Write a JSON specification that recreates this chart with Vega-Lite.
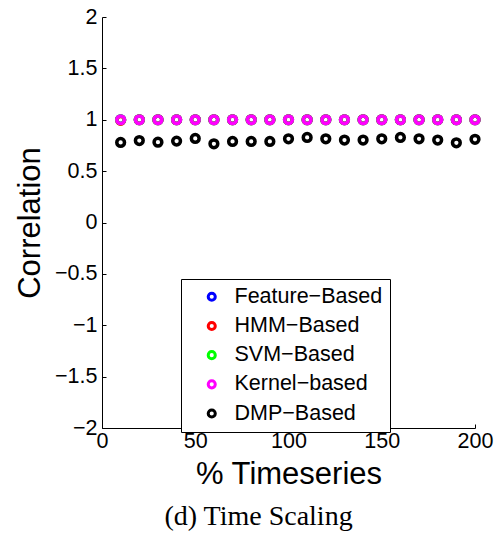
{
  "$schema": "https://vega.github.io/schema/vega-lite/v6.json",
  "width": 373,
  "height": 411,
  "autosize": {"type": "none"},
  "padding": {"left": 102, "top": 17, "right": 29, "bottom": 105},
  "background": "white",
  "title": {
    "text": "(d)  Time Scaling",
    "orient": "bottom",
    "anchor": "middle",
    "font": "Liberation Serif",
    "fontSize": 28,
    "fontWeight": "normal",
    "color": "black",
    "dx": -30,
    "offset": 13
  },
  "config": {
    "view": {"stroke": null},
    "font": "Liberation Sans",
    "axis": {
      "domainColor": "black",
      "domainWidth": 1,
      "tickColor": "black",
      "tickWidth": 1,
      "tickSize": -4,
      "grid": false,
      "labelFont": "Liberation Sans",
      "labelFontSize": 21.5,
      "labelColor": "black",
      "titleFont": "Liberation Sans",
      "titleFontSize": 31,
      "titleFontWeight": "normal",
      "titleColor": "black"
    },
    "legend": {
      "strokeColor": "black",
      "fillColor": "white",
      "padding": 7,
      "labelFont": "Liberation Sans",
      "labelFontSize": 21.5,
      "labelColor": "black",
      "symbolSize": 50,
      "symbolStrokeWidth": 3,
      "symbolOffset": 13,
      "labelOffset": 12,
      "rowPadding": 6.2
    }
  },
  "data": {
    "values": [
      {"series": "Feature−Based", "x": 10, "y": 1}, {"series": "Feature−Based", "x": 20, "y": 1}, {"series": "Feature−Based", "x": 30, "y": 1}, {"series": "Feature−Based", "x": 40, "y": 1}, {"series": "Feature−Based", "x": 50, "y": 1},
      {"series": "Feature−Based", "x": 60, "y": 1}, {"series": "Feature−Based", "x": 70, "y": 1}, {"series": "Feature−Based", "x": 80, "y": 1}, {"series": "Feature−Based", "x": 90, "y": 1}, {"series": "Feature−Based", "x": 100, "y": 1},
      {"series": "Feature−Based", "x": 110, "y": 1}, {"series": "Feature−Based", "x": 120, "y": 1}, {"series": "Feature−Based", "x": 130, "y": 1}, {"series": "Feature−Based", "x": 140, "y": 1}, {"series": "Feature−Based", "x": 150, "y": 1},
      {"series": "Feature−Based", "x": 160, "y": 1}, {"series": "Feature−Based", "x": 170, "y": 1}, {"series": "Feature−Based", "x": 180, "y": 1}, {"series": "Feature−Based", "x": 190, "y": 1}, {"series": "Feature−Based", "x": 200, "y": 1},
      {"series": "HMM−Based", "x": 10, "y": 0.995}, {"series": "HMM−Based", "x": 20, "y": 1}, {"series": "HMM−Based", "x": 30, "y": 1}, {"series": "HMM−Based", "x": 40, "y": 1}, {"series": "HMM−Based", "x": 50, "y": 1},
      {"series": "HMM−Based", "x": 60, "y": 1}, {"series": "HMM−Based", "x": 70, "y": 1}, {"series": "HMM−Based", "x": 80, "y": 1}, {"series": "HMM−Based", "x": 90, "y": 1}, {"series": "HMM−Based", "x": 100, "y": 1},
      {"series": "HMM−Based", "x": 110, "y": 1}, {"series": "HMM−Based", "x": 120, "y": 1}, {"series": "HMM−Based", "x": 130, "y": 1}, {"series": "HMM−Based", "x": 140, "y": 1}, {"series": "HMM−Based", "x": 150, "y": 1},
      {"series": "HMM−Based", "x": 160, "y": 1}, {"series": "HMM−Based", "x": 170, "y": 1}, {"series": "HMM−Based", "x": 180, "y": 1}, {"series": "HMM−Based", "x": 190, "y": 1}, {"series": "HMM−Based", "x": 200, "y": 1},
      {"series": "SVM−Based", "x": 10, "y": 1}, {"series": "SVM−Based", "x": 20, "y": 1}, {"series": "SVM−Based", "x": 30, "y": 1}, {"series": "SVM−Based", "x": 40, "y": 1}, {"series": "SVM−Based", "x": 50, "y": 1},
      {"series": "SVM−Based", "x": 60, "y": 1}, {"series": "SVM−Based", "x": 70, "y": 1}, {"series": "SVM−Based", "x": 80, "y": 1}, {"series": "SVM−Based", "x": 90, "y": 1}, {"series": "SVM−Based", "x": 100, "y": 1},
      {"series": "SVM−Based", "x": 110, "y": 1}, {"series": "SVM−Based", "x": 120, "y": 1}, {"series": "SVM−Based", "x": 130, "y": 1}, {"series": "SVM−Based", "x": 140, "y": 1}, {"series": "SVM−Based", "x": 150, "y": 1},
      {"series": "SVM−Based", "x": 160, "y": 1}, {"series": "SVM−Based", "x": 170, "y": 1}, {"series": "SVM−Based", "x": 180, "y": 1}, {"series": "SVM−Based", "x": 190, "y": 1}, {"series": "SVM−Based", "x": 200, "y": 1},
      {"series": "Kernel−based", "x": 10, "y": 1}, {"series": "Kernel−based", "x": 20, "y": 1}, {"series": "Kernel−based", "x": 30, "y": 1}, {"series": "Kernel−based", "x": 40, "y": 1}, {"series": "Kernel−based", "x": 50, "y": 1},
      {"series": "Kernel−based", "x": 60, "y": 1}, {"series": "Kernel−based", "x": 70, "y": 1}, {"series": "Kernel−based", "x": 80, "y": 1}, {"series": "Kernel−based", "x": 90, "y": 1}, {"series": "Kernel−based", "x": 100, "y": 1},
      {"series": "Kernel−based", "x": 110, "y": 1}, {"series": "Kernel−based", "x": 120, "y": 1}, {"series": "Kernel−based", "x": 130, "y": 1}, {"series": "Kernel−based", "x": 140, "y": 1}, {"series": "Kernel−based", "x": 150, "y": 1},
      {"series": "Kernel−based", "x": 160, "y": 1}, {"series": "Kernel−based", "x": 170, "y": 1}, {"series": "Kernel−based", "x": 180, "y": 1}, {"series": "Kernel−based", "x": 190, "y": 1}, {"series": "Kernel−based", "x": 200, "y": 1},
      {"series": "DMP−Based", "x": 10, "y": 0.779}, {"series": "DMP−Based", "x": 20, "y": 0.798}, {"series": "DMP−Based", "x": 30, "y": 0.782}, {"series": "DMP−Based", "x": 40, "y": 0.792}, {"series": "DMP−Based", "x": 50, "y": 0.818},
      {"series": "DMP−Based", "x": 60, "y": 0.766}, {"series": "DMP−Based", "x": 70, "y": 0.789}, {"series": "DMP−Based", "x": 80, "y": 0.789}, {"series": "DMP−Based", "x": 90, "y": 0.789}, {"series": "DMP−Based", "x": 100, "y": 0.815},
      {"series": "DMP−Based", "x": 110, "y": 0.828}, {"series": "DMP−Based", "x": 120, "y": 0.815}, {"series": "DMP−Based", "x": 130, "y": 0.802}, {"series": "DMP−Based", "x": 140, "y": 0.802}, {"series": "DMP−Based", "x": 150, "y": 0.815},
      {"series": "DMP−Based", "x": 160, "y": 0.828}, {"series": "DMP−Based", "x": 170, "y": 0.815}, {"series": "DMP−Based", "x": 180, "y": 0.802}, {"series": "DMP−Based", "x": 190, "y": 0.776}, {"series": "DMP−Based", "x": 200, "y": 0.81}
    ]
  },
  "mark": {"type": "point", "shape": "circle", "filled": false, "size": 60, "strokeWidth": 3.5, "opacity": 1},
  "encoding": {
    "x": {
      "field": "x", "type": "quantitative",
      "scale": {"domain": [0, 200], "nice": false, "zero": false},
      "axis": {"title": "% Timeseries", "values": [0, 50, 100, 150, 200], "labelPadding": 6, "titlePadding": 8, "labelFlush": false}
    },
    "y": {
      "field": "y", "type": "quantitative",
      "scale": {"domain": [-2, 2], "nice": false, "zero": false},
      "axis": {"title": "Correlation", "values": [-2, -1.5, -1, -0.5, 0, 0.5, 1, 1.5, 2], "format": "~g", "labelPadding": 9, "titlePadding": 8, "labelFlush": false}
    },
    "color": {
      "field": "series", "type": "nominal",
      "scale": {
        "domain": ["Feature−Based", "HMM−Based", "SVM−Based", "Kernel−based", "DMP−Based"],
        "range": ["#0000ff", "#ff0000", "#00ff00", "#ff00ff", "#000000"]
      },
      "legend": {"title": null, "orient": "none", "legendX": 79, "legendY": 262}
    }
  }
}
